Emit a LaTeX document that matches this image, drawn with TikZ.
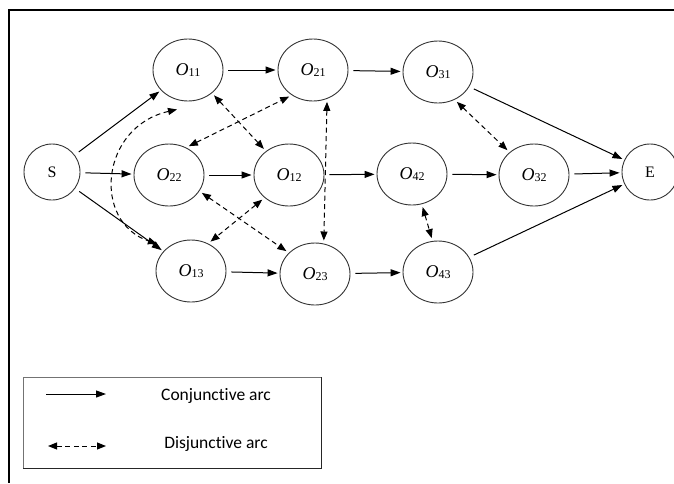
\documentclass[tikz,border=0pt]{standalone}
\usepackage{fontspec}
\setmainfont{Liberation Serif}
\newfontfamily\legendfont[Ligatures=NoCommon]{Carlito}
\usetikzlibrary{shapes.geometric,arrows.meta}

\newcommand{\opname}[1]{{\fontsize{18}{18}\selectfont\itshape O}\raisebox{-1pt}{\fontsize{12}{12}\selectfont #1}}

\begin{document}
\begin{tikzpicture}
	[x=1pt,y=1pt,
	op/.style={ellipse,draw=black!80,line width=0.9pt,minimum width=70pt,minimum height=62pt,inner sep=0pt},
	term/.style={circle,draw=black!80,line width=0.9pt,minimum size=56pt,inner sep=0pt,font=\fontsize{16}{16}\selectfont},
	conj/.style={-{Triangle[length=10pt,width=7pt]},line width=1pt,shorten <=5pt,shorten >=2pt},
	disj/.style={{Triangle[length=9pt,width=7pt]}-{Triangle[length=9pt,width=7pt]},line width=1pt,dash pattern=on 5pt off 3.5pt,shorten <=3pt,shorten >=3pt},
	legendtext/.style={font=\legendfont\fontsize{17.5}{20}\selectfont}]
	\useasboundingbox (0,0) rectangle (674,-483);
	\draw[line width=1.2pt] (674,-10) -- (9,-10) -- (9,-483);
	
	\node[term] (s) at (52,-172) {S};
	\node[term] (e) at (650,-172) {E};
	\node[op] (o11) at (188,-70)  {\opname{11}};
	\node[op] (o21) at (313,-70)  {\opname{21}};
	\node[op] (o31) at (438,-72)  {\opname{31}};
	\node[op] (o22) at (169,-175) {\opname{22}};
	\node[op] (o12) at (289,-175) {\opname{12}};
	\node[op] (o42) at (412,-174) {\opname{42}};
	\node[op] (o32) at (534,-175) {\opname{32}};
	\node[op] (o13) at (191,-271) {\opname{13}};
	\node[op] (o23) at (315,-274) {\opname{23}};
	\node[op] (o43) at (438,-272) {\opname{43}};
	
	\foreach \from/\to in {s/o11,s/o22,s/o13,o11/o21,o21/o31,o31/e,o22/o12,o12/o42,o42/o32,o32/e,o13/o23,o23/o43,o43/e}
	\draw[conj] (\from) -- (\to);
	
	\foreach \from/\to in {o11.316/o12.134,o22.58/o21.230,o21.296/o23.74,o12.223/o13.58,o22.332/o23.141,o31.301/o32.137,o42.288/o43.100}
	\draw[disj] (\from) -- (\to);
	\draw[disj,shorten <=0pt,shorten >=0pt] ([xshift=-11pt,yshift=-8pt]o11.south) .. controls (100,-127) and (92,-222) .. ([xshift=-9pt,yshift=5pt]o13.north west);
	
	\draw[line width=0.8pt,draw=black!55] (23,-468) -- (23,-377) -- (321,-377);
	\draw[line width=0.9pt,draw=black!85] (321,-377) -- (321,-468) -- (23,-468);
	\coordinate (ca) at (46,-394);
	\coordinate (cb) at (106,-394);
	\coordinate (da) at (48,-446);
	\coordinate (db) at (106,-446);
	\draw[conj,shorten <=0pt,shorten >=0pt] (ca) -- (cb);
	\draw[disj,shorten <=0pt,shorten >=0pt] (da) -- (db);
	\node[legendtext] (conjlabel) at (216,-396) {Conjunctive arc};
	\node[legendtext] (disjlabel) at (216,-444) {Disjunctive arc};
\end{tikzpicture}
\end{document}
